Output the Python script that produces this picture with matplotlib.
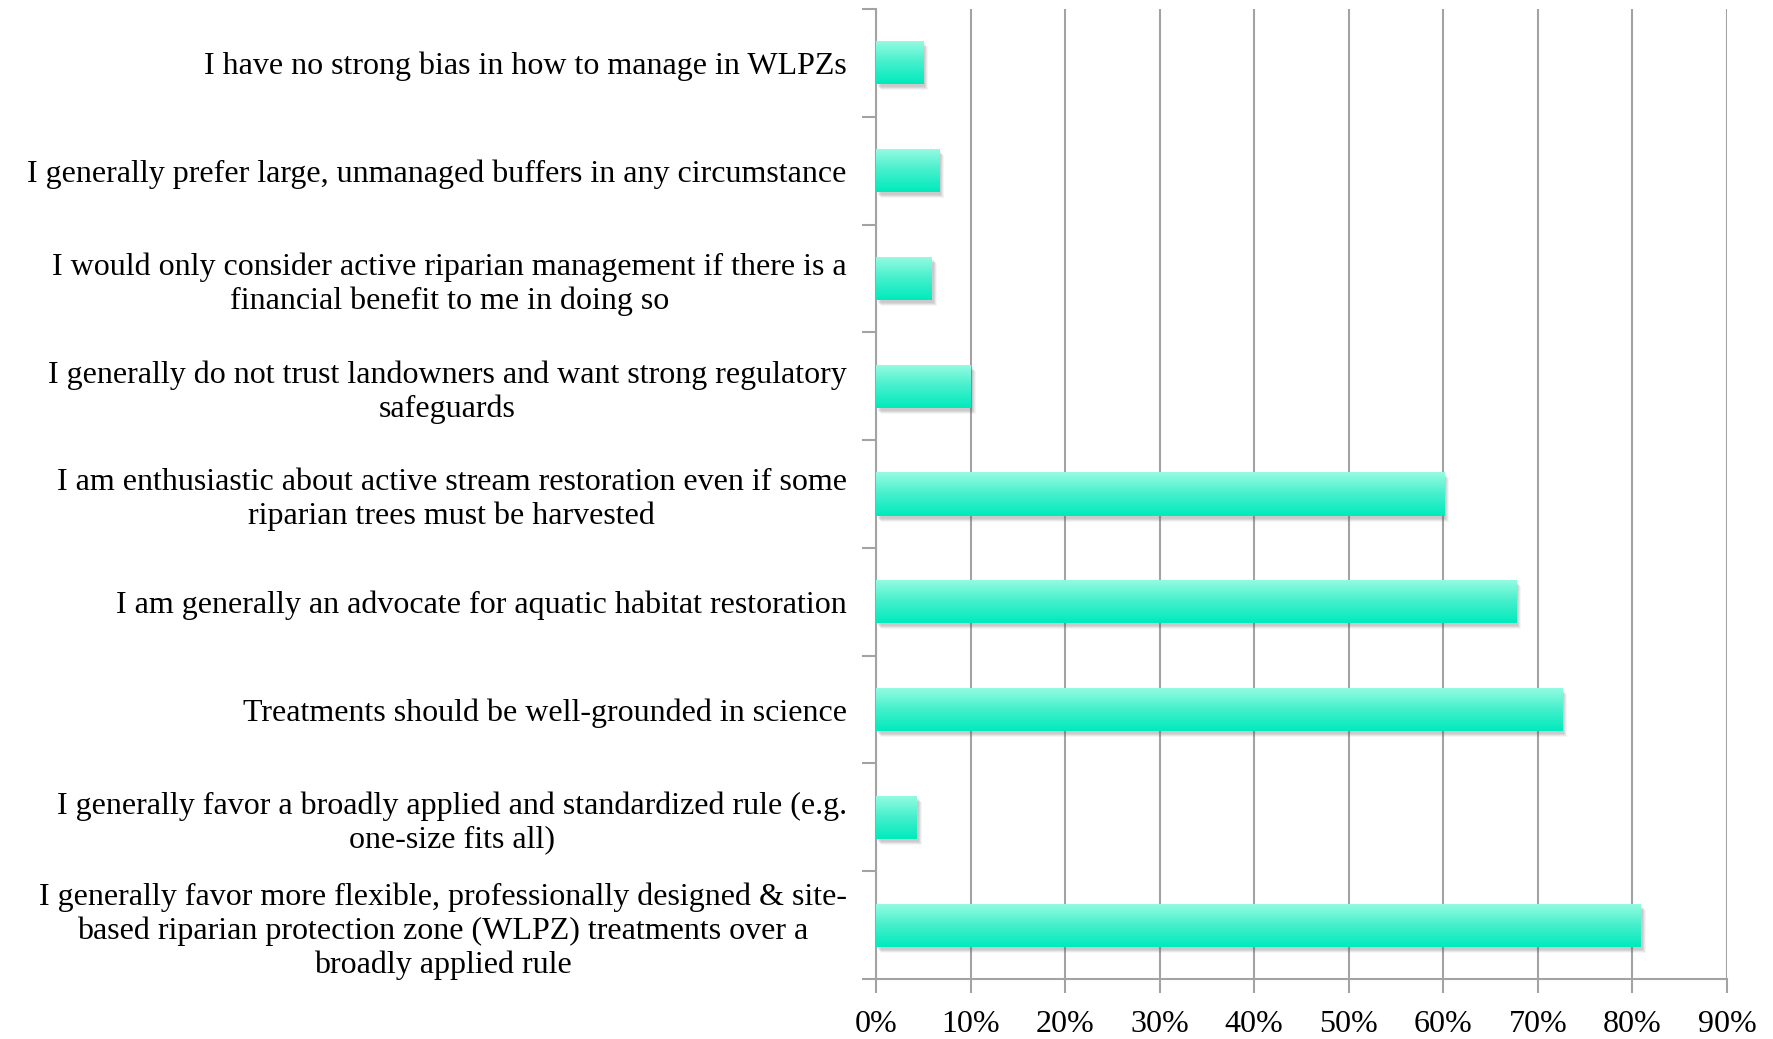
import numpy as np
import matplotlib
matplotlib.use("Agg")
import matplotlib.pyplot as plt
import matplotlib.transforms as mtransforms
from matplotlib.colors import LinearSegmentedColormap

# Survey statements (top to bottom) and share of respondents agreeing
categories = [
    "I have no strong bias in how to manage in WLPZs",
    "I generally prefer large, unmanaged buffers in any circumstance",
    "I would only consider active riparian management if there is a\nfinancial benefit to me in doing so",
    "I generally do not trust landowners and want strong regulatory\nsafeguards",
    "I am enthusiastic about active stream restoration even if some\nriparian trees must be harvested",
    "I am generally an advocate for aquatic habitat restoration",
    "Treatments should be well-grounded in science",
    "I generally favor a broadly applied and standardized rule (e.g.\none-size fits all)",
    "I generally favor more flexible, professionally designed & site-\nbased riparian protection zone (WLPZ) treatments over a\nbroadly applied rule",
]
shares = [0.050, 0.067, 0.059, 0.100, 0.601, 0.677, 0.726, 0.043, 0.809]
x_ticks = [0.0, 0.1, 0.2, 0.3, 0.4, 0.5, 0.6, 0.7, 0.8, 0.9]
x_labels = ["0%", "10%", "20%", "30%", "40%", "50%", "60%", "70%", "80%", "90%"]

GRID = "#a3a3a3"
FONT = ["Liberation Serif", "DejaVu Serif"]
plt.rcParams["font.family"] = FONT

fig = plt.figure(figsize=(17.73, 10.39), dpi=100)
ax = fig.add_axes([876 / 1773, 1 - 979 / 1039, (1727 - 876) / 1773, (979 - 9) / 1039])

pos = np.arange(len(categories))
bars = ax.barh(pos, shares, height=0.4, facecolor="none", edgecolor="none", zorder=3)

# light mint at the top fading to saturated teal at the bottom
grad = LinearSegmentedColormap.from_list("teal", ["#98fbe2", "#45f0cc", "#00eabd"])
gimg = np.linspace(0, 1, 256).reshape(-1, 1)

for b in bars:
    x0, y0 = b.get_x(), b.get_y()
    w, h = b.get_width(), b.get_height()
    # soft drop shadow, offset right and down
    for dx, dy, a in [(2, -3, 0.10), (3, -4, 0.10), (4, -5, 0.08), (5, -6, 0.06)]:
        off = mtransforms.offset_copy(ax.transData, fig=fig, x=dx, y=dy, units="dots")
        ax.add_patch(plt.Rectangle((x0, y0), w, h, transform=off, facecolor="#555555",
                                   edgecolor="none", alpha=a, zorder=2))
    # vertical gradient fill clipped to the bar (y axis is inverted: y0 is the top edge)
    im = ax.imshow(gimg, cmap=grad, aspect="auto", origin="upper",
                   extent=(x0, x0 + w, y0 + h, y0), zorder=3, interpolation="bilinear")
    im.set_clip_path(b)

ax.set_xlim(0, 0.9)
ax.set_ylim(len(categories) - 0.5, -0.5)

ax.set_xticks(x_ticks)
ax.set_xticklabels(x_labels, fontsize=23)
ax.tick_params(axis="x", direction="out", length=10, width=1.5, color=GRID, pad=12)

# category boundaries carry the tick marks, labels sit at category centres
ax.set_yticks(np.arange(len(categories) + 1) - 0.5)
ax.set_yticklabels([])
ax.set_yticks(pos, minor=True)
ax.set_yticklabels(categories, minor=True, fontsize=23, multialignment="center")
ax.tick_params(axis="y", which="major", direction="out", length=10, width=1.5, color=GRID)
ax.tick_params(axis="y", which="minor", length=0, pad=21)

ax.grid(axis="x", color=GRID, linewidth=1.5, zorder=1)
ax.set_axisbelow(True)
for s in ("top", "right"):
    ax.spines[s].set_visible(False)
for s in ("left", "bottom"):
    ax.spines[s].set_color(GRID)
    ax.spines[s].set_linewidth(1.5)

fig.savefig("out.png", dpi=100)
